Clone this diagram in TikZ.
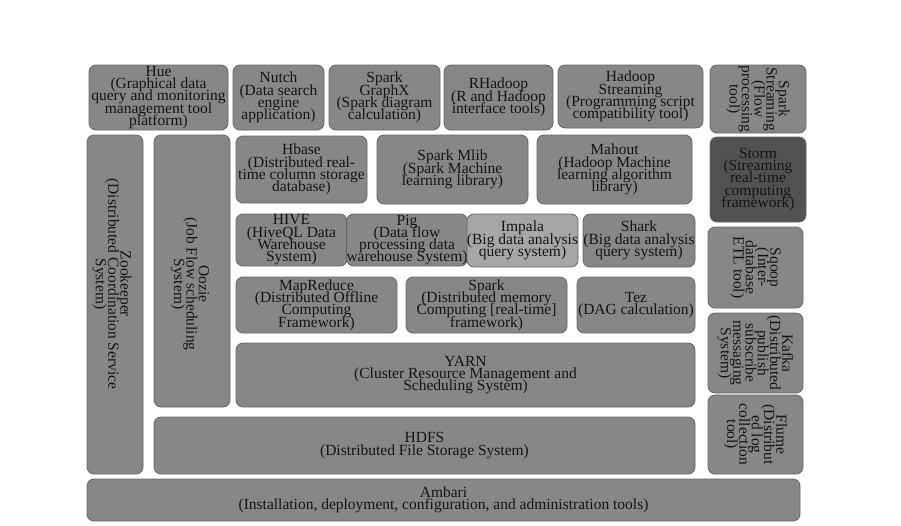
\documentclass[tikz,border=0pt]{standalone}
\usepackage{fontspec}
\setmainfont{Liberation Serif}
\newcommand\boxfont{\fontsize{15.5}{12.3}\selectfont\lineskiplimit=-50pt\lineskip=0pt}
\begin{document}
\begin{tikzpicture}[x=1pt,y=-1pt,
    block/.style={draw=boxline,fill=boxfill,rounded corners=7pt,line width=0.8pt,
      inner sep=0pt,align=center,text=boxtext,font=\boxfont},
    vblock/.style={block,rotate=-90},
    label/.style={align=center,inner sep=0pt,text=boxtext,font=\boxfont}]
  \colorlet{boxfill}{black!47}
  \colorlet{boxline}{black!60}
  \colorlet{boxlight}{black!35}
  \colorlet{boxdark}{black!68}
  \colorlet{boxtext}{black!92}

  \useasboundingbox[fill=white] (0,0) rectangle (901,525);

  % top row
  \node[block,minimum width=139pt,minimum height=65pt] (hue) at (158.5,97.5)
    {Hue\\(Graphical data\\query and monitoring\\management tool\\platform)};
  \node[block,minimum width=91pt,minimum height=65pt] (nutch) at (278.5,97.5)
    {Nutch\\(Data search\\engine\\application)};
  \node[block,minimum width=111pt,minimum height=65pt] (graphx) at (384.5,97.5)
    {Spark\\GraphX\\(Spark diagram\\calculation)};
  \node[block,minimum width=109pt,minimum height=65pt] (rhadoop) at (498.5,97.5)
    {RHadoop\\(R and Hadoop\\interface tools)};
  \node[block,minimum width=145pt,minimum height=63pt] (hstream) at (630.5,96.5)
    {Hadoop\\Streaming\\(Programming script\\compatibility tool)};

  % left columns
  \node[block,minimum width=56pt,minimum height=339pt] (zk) at (115,304.5) {};
  \node[label,rotate=-90] (zktext) at (112,284)
    {Zookeeper\\(Distributed Coordination Service\\System)};
  \node[block,minimum width=76pt,minimum height=272pt] (oozie) at (192,271) {};
  \node[label,rotate=-90] (oozietext) at (190,284)
    {Oozie\\(Job Flow scheduling\\System)};

  % middle layers
  \node[block,minimum width=131pt,minimum height=67pt] (hbase) at (301.5,169.5)
    {Hbase\\(Distributed real-\\time column storage\\database)};
  \node[block,minimum width=151pt,minimum height=69pt] (mlib) at (452.5,169.5)
    {Spark Mlib\\(Spark Machine\\learning library)};
  \node[block,minimum width=155pt,minimum height=69pt] (mahout) at (614.5,169.5)
    {Mahout\\(Hadoop Machine\\learning algorithm\\library)};

  \node[block,minimum width=111pt,minimum height=52pt] (hive) at (291.5,240)
    {HIVE\\(HiveQL Data\\Warehouse\\System)};
  \node[block,minimum width=112pt,minimum height=52pt] (pig) at (407,240)
    {Pig\\(Data flow\\processing data\\warehouse System)};
  \node[block,fill=boxlight,minimum width=111pt,minimum height=53pt] (impala) at (522.5,240.5)
    {Impala\\(Big data analysis\\query system)};
  \node[block,minimum width=112pt,minimum height=53pt] (shark) at (639,240.5)
    {Shark\\(Big data analysis\\query system)};

  \node[block,minimum width=161pt,minimum height=56pt] (mapred) at (316.5,305)
    {MapReduce\\(Distributed Offline\\Computing\\Framework)};
  \node[block,minimum width=161pt,minimum height=56pt] (spark) at (486.5,305)
    {Spark\\(Distributed memory\\Computing [real-time]\\framework)};
  \node[block,minimum width=118pt,minimum height=56pt] (tez) at (636,305)
    {Tez\\(DAG calculation)};

  \node[block,minimum width=459pt,minimum height=64pt] (yarn) at (465.5,375)
    {YARN\\(Cluster Resource Management and\\Scheduling System)};
  \node[block,minimum width=541pt,minimum height=57pt] (hdfs) at (424.5,445.5)
    {HDFS\\(Distributed File Storage System)};
  \node[block,minimum width=713pt,minimum height=42pt] (ambari) at (443.5,500)
    {Ambari\\(Installation, deployment, configuration, and administration tools)};

  % right column
  \node[vblock,minimum width=68pt,minimum height=96pt] (sstream) at (758,99)
    {Spark\\Streaming\\(Flow\\processing\\tool)};
  \node[block,fill=boxdark,minimum width=96pt,minimum height=85pt] (storm) at (758,179.5)
    {Storm\\(Streaming\\real-time\\computing\\framework)};
  \node[vblock,minimum width=81pt,minimum height=95pt] (sqoop) at (755.5,267.5)
    {Sqoop\\(Inter-\\database\\ETL tool)};
  \node[vblock,minimum width=80pt,minimum height=95pt] (kafka) at (755.5,353)
    {Kafka\\(Distributed\\publish\\subscribe\\messaging\\System)};
  \node[vblock,minimum width=79pt,minimum height=95pt] (flume) at (755.5,434.5)
    {Flume\\(Distribut\\ed log\\collection\\tool)};
\end{tikzpicture}
\end{document}
